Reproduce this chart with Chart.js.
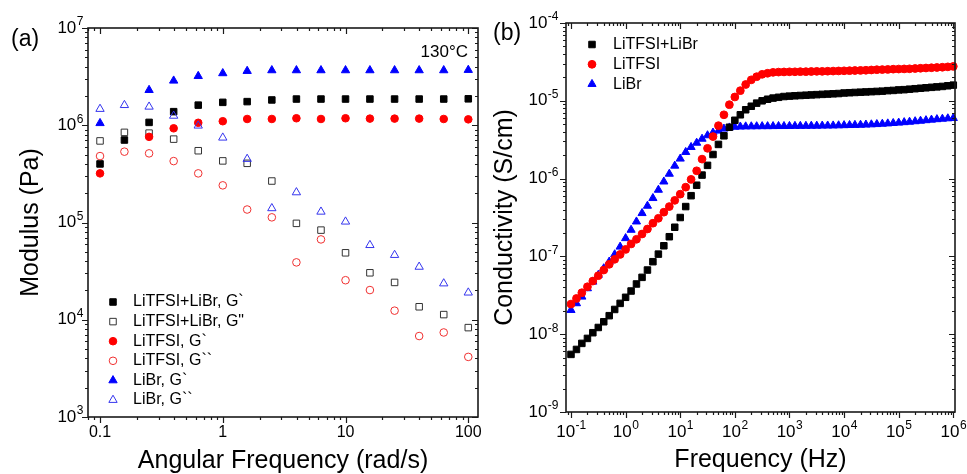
<!DOCTYPE html>
<html>
<head>
<meta charset="utf-8">
<script src="https://cdn.jsdelivr.net/npm/chart.js@4.4.1/dist/chart.umd.min.js"></script>
<style>
  html, body { margin: 0; padding: 0; background: #fff; }
  #wrap { position: relative; width: 967px; height: 474px; overflow: hidden; }
  canvas { position: absolute; top: 0; }
  #chartA { left: 0; }
  #chartB { left: 490px; }
</style>
</head>
<body>
<div id="wrap">
  <canvas id="chartA" width="490" height="474"></canvas>
  <canvas id="chartB" width="477" height="474"></canvas>
</div>
<script>
const FONT = 'Arial, "Liberation Sans", Helvetica, sans-serif';
Chart.defaults.font.family = FONT;
Chart.defaults.color = '#000';

// ---- (a) modulus vs angular frequency, 130 C ----
const omega = [0.1, 0.158, 0.251, 0.398, 0.631, 1, 1.58, 2.51, 3.98, 6.31, 10, 15.8, 25.1, 39.8, 63.1, 100];
const gpMix   = [4.0e5, 7.05e5, 1.07e6, 1.38e6, 1.61e6, 1.72e6, 1.75e6, 1.82e6, 1.86e6, 1.86e6, 1.86e6, 1.86e6, 1.86e6, 1.86e6, 1.86e6, 1.87e6];
const gppMix  = [6.9e5, 8.45e5, 8.3e5, 7.2e5, 5.47e5, 4.3e5, 4.06e5, 2.67e5, 9.8e4, 8.35e4, 4.88e4, 3.04e4, 2.42e4, 1.36e4, 1.13e4, 8.3e3];
const gpTfsi  = [3.2e5, null, 7.6e5, 9.3e5, 1.06e6, 1.1e6, 1.16e6, 1.16e6, 1.18e6, 1.16e6, 1.18e6, 1.17e6, 1.17e6, 1.17e6, 1.16e6, 1.15e6];
const gppTfsi = [4.82e5, 5.35e5, 5.14e5, 4.28e5, 3.2e5, 2.41e5, 1.36e5, 1.13e5, 3.89e4, 6.7e4, 2.55e4, 2.02e4, 1.24e4, 6.8e3, 7.4e3, 4.15e3];
const gpLibr  = [1.05e6, null, 2.3e6, 2.87e6, 3.2e6, 3.42e6, 3.61e6, 3.67e6, 3.67e6, 3.67e6, 3.67e6, 3.67e6, 3.67e6, 3.67e6, 3.67e6, 3.7e6];
const gppLibr = [1.47e6, 1.61e6, 1.55e6, 1.25e6, 9.9e5, 7.45e5, 4.5e5, 1.4e5, 2.04e5, 1.29e5, 1.02e5, 5.85e4, 4.63e4, 3.5e4, 2.36e4, 1.9e4];
const labelsA = ['LiTFSI+LiBr, G`', 'LiTFSI+LiBr, G"', 'LiTFSI, G`', 'LiTFSI, G``', 'LiBr, G`', 'LiBr, G``'];

// ---- (b) conductivity vs frequency ----
const freq = [
  0.1, 0.126, 0.158, 0.2, 0.251, 0.316, 0.398, 0.501, 0.631, 0.794,
  1, 1.26, 1.58, 2, 2.51, 3.16, 3.98, 5.01, 6.31, 7.94,
  10, 12.6, 15.8, 20, 25.1, 31.6, 39.8, 50.1, 63.1, 79.4,
  100, 126, 158, 200, 251, 316, 398, 501, 631, 794,
  1000, 1260, 1580, 2000, 2510, 3160, 3980, 5010, 6310, 7940,
  1e4, 1.26e4, 1.58e4, 2e4, 2.51e4, 3.16e4, 3.98e4, 5.01e4, 6.31e4, 7.94e4,
  1e5, 1.26e5, 1.58e5, 2e5, 2.51e5, 3.16e5, 3.98e5, 5.01e5, 6.31e5, 7.94e5,
  1e6
];
const sigMix = [
  5.5e-9, 6.37e-9, 7.62e-9, 8.83e-9, 1.045e-8, 1.22e-8, 1.445e-8, 1.73e-8, 2.08e-8, 2.49e-8,
  2.98e-8, 3.59e-8, 4.42e-8, 5.38e-8, 6.68e-8, 8.55e-8, 1.07e-7, 1.37e-7, 1.79e-7, 2.37e-7,
  3.16e-7, 4.37e-7, 6.03e-7, 8.22e-7, 1.11e-6, 1.48e-6, 2.04e-6, 2.75e-6, 3.55e-6, 4.57e-6,
  5.62e-6, 6.61e-6, 7.67e-6, 8.51e-6, 9.33e-6, 1.0e-5, 1.047e-5, 1.084e-5, 1.109e-5, 1.135e-5,
  1.148e-5, 1.16e-5, 1.17e-5, 1.18e-5, 1.19e-5, 1.2e-5, 1.21e-5, 1.22e-5, 1.23e-5, 1.24e-5,
  1.26e-5, 1.27e-5, 1.28e-5, 1.29e-5, 1.3e-5, 1.31e-5, 1.32e-5, 1.33e-5, 1.35e-5, 1.36e-5,
  1.38e-5, 1.39e-5, 1.41e-5, 1.43e-5, 1.45e-5, 1.47e-5, 1.49e-5, 1.51e-5, 1.53e-5, 1.56e-5,
  1.59e-5
];
const sigTfsi = [
  2.44e-8, 2.88e-8, 3.41e-8, 4.07e-8, 4.82e-8, 5.65e-8, 6.68e-8, 7.91e-8, 9.18e-8, 1.06e-7,
  1.23e-7, 1.445e-7, 1.66e-7, 1.94e-7, 2.25e-7, 2.67e-7, 3.09e-7, 3.7e-7, 4.37e-7, 5.25e-7,
  6.31e-7, 7.76e-7, 9.77e-7, 1.26e-6, 1.78e-6, 2.45e-6, 3.47e-6, 4.79e-6, 6.61e-6, 8.91e-6,
  1.12e-5, 1.35e-5, 1.62e-5, 1.86e-5, 2.04e-5, 2.19e-5, 2.26e-5, 2.32e-5, 2.34e-5, 2.35e-5,
  2.36e-5, 2.36e-5, 2.37e-5, 2.37e-5, 2.38e-5, 2.39e-5, 2.39e-5, 2.4e-5, 2.41e-5, 2.42e-5,
  2.43e-5, 2.44e-5, 2.45e-5, 2.46e-5, 2.47e-5, 2.49e-5, 2.51e-5, 2.52e-5, 2.53e-5, 2.55e-5,
  2.56e-5, 2.57e-5, 2.58e-5, 2.6e-5, 2.62e-5, 2.64e-5, 2.66e-5, 2.68e-5, 2.7e-5, 2.73e-5,
  2.77e-5
];
const sigLibr = [
  2.04e-8, 2.49e-8, 3.03e-8, 3.88e-8, 4.72e-8, 5.77e-8, 7.01e-8, 8.55e-8, 1.06e-7, 1.33e-7,
  1.71e-7, 2.19e-7, 2.8e-7, 3.59e-7, 4.46e-7, 5.6e-7, 7.16e-7, 9.14e-7, 1.15e-6, 1.46e-6,
  1.8e-6, 2.19e-6, 2.54e-6, 2.88e-6, 3.24e-6, 3.59e-6, 3.89e-6, 4.12e-6, 4.37e-6, 4.52e-6,
  4.62e-6, 4.65e-6, 4.67e-6, 4.68e-6, 4.69e-6, 4.7e-6, 4.7e-6, 4.71e-6, 4.72e-6, 4.72e-6,
  4.73e-6, 4.74e-6, 4.74e-6, 4.75e-6, 4.76e-6, 4.77e-6, 4.78e-6, 4.79e-6, 4.8e-6, 4.82e-6,
  4.84e-6, 4.86e-6, 4.88e-6, 4.9e-6, 4.93e-6, 4.96e-6, 5.0e-6, 5.05e-6, 5.1e-6, 5.16e-6,
  5.22e-6, 5.29e-6, 5.36e-6, 5.44e-6, 5.52e-6, 5.61e-6, 5.7e-6, 5.78e-6, 5.86e-6, 5.93e-6,
  5.98e-6
];
const labelsB = ['LiTFSI+LiBr', 'LiTFSI', 'LiBr'];

function plainLabel(v) {
  return v >= 1 ? String(Math.round(v)) : String(v);
}

// 1..9 x 10^n ticks, decades flagged as major
function logTicks(scale) {
  const ticks = [];
  const lo = Math.floor(Math.log10(scale.min));
  const hi = Math.ceil(Math.log10(scale.max));
  for (let e = lo; e <= hi; e++) {
    for (let m = 1; m <= 9; m++) {
      const v = parseFloat((m * Math.pow(10, e)).toPrecision(6));
      if (v >= scale.min * 0.9999 && v <= scale.max * 1.0001) ticks.push({value: v, major: m === 1});
    }
  }
  scale.ticks = ticks;
}

function pts(xs, ys) {
  return xs.map((x, i) => ({x: x, y: ys[i]}));
}

function drawMarker(ctx, style, x, y, r, fill, stroke, lw) {
  ctx.beginPath();
  if (style === 'rect') {
    const s = r * Math.SQRT1_2;
    ctx.rect(x - s, y - s, 2 * s, 2 * s);
  } else if (style === 'triangle') {
    let a = 0;
    ctx.moveTo(x + Math.sin(a) * r, y - Math.cos(a) * r);
    a += 2 * Math.PI / 3;
    ctx.lineTo(x + Math.sin(a) * r, y - Math.cos(a) * r);
    a += 2 * Math.PI / 3;
    ctx.lineTo(x + Math.sin(a) * r, y - Math.cos(a) * r);
    ctx.closePath();
  } else {
    ctx.arc(x, y, r, 0, 2 * Math.PI);
  }
  ctx.fillStyle = fill;
  ctx.fill();
  ctx.lineWidth = lw;
  ctx.strokeStyle = stroke;
  ctx.stroke();
}

// box frame; ticks out on bottom/left, in on top/right
const frameTicks = {
  id: 'frameTicks',
  afterDraw(chart) {
    const {ctx, chartArea: a} = chart;
    const x = chart.scales.x, y = chart.scales.y;
    ctx.save();
    ctx.strokeStyle = '#1a1a1a';
    ctx.lineWidth = 1.2;
    ctx.beginPath();
    x.ticks.forEach(t => {
      const px = Math.round(x.getPixelForValue(t.value)) + 0.5;
      const len = t.major ? 6 : 3;
      ctx.moveTo(px, a.bottom); ctx.lineTo(px, a.bottom + len);
      ctx.moveTo(px, a.top); ctx.lineTo(px, a.top + len);
    });
    y.ticks.forEach(t => {
      const py = Math.round(y.getPixelForValue(t.value)) + 0.5;
      const len = t.major ? 6 : 3;
      ctx.moveTo(a.left, py); ctx.lineTo(a.left - len, py);
      ctx.moveTo(a.right, py); ctx.lineTo(a.right - len, py);
    });
    ctx.stroke();
    ctx.lineWidth = 1.6;
    ctx.strokeRect(a.left, a.top, a.right - a.left, a.bottom - a.top);
    ctx.restore();
  }
};

// "10" with a raised exponent at each decade of the chosen axes
function powLabels(cfg) {
  return {
    id: 'powLabels',
    afterDraw(chart) {
      const ctx = chart.ctx;
      const a = chart.chartArea;
      ctx.save();
      ctx.fillStyle = '#000';
      ctx.textBaseline = 'middle';
      ctx.textAlign = 'left';
      const bigF = '17px ' + FONT, smallF = '12px ' + FONT;
      const put = (px, py, e, anchor) => {
        const exp = String(e);
        ctx.font = bigF;
        const w1 = ctx.measureText('10').width;
        ctx.font = smallF;
        const w2 = ctx.measureText(exp).width;
        const x0 = anchor === 'right' ? px - w1 - w2 : px - (w1 + w2) / 2;
        ctx.font = bigF;
        ctx.fillText('10', x0, py);
        ctx.font = smallF;
        ctx.fillText(exp, x0 + w1 + 0.5, py - 6);
      };
      if (cfg.x) {
        const s = chart.scales.x;
        s.ticks.forEach(t => {
          if (!t.major) return;
          put(s.getPixelForValue(t.value), a.bottom + cfg.xDown, Math.round(Math.log10(t.value)), 'center');
        });
      }
      if (cfg.y) {
        const s = chart.scales.y;
        s.ticks.forEach(t => {
          if (!t.major) return;
          put(a.left - cfg.yGap, s.getPixelForValue(t.value), Math.round(Math.log10(t.value)), 'right');
        });
      }
      ctx.restore();
    }
  };
}

function legendPlugin(markX, textX, y0, dy) {
  return {
    id: 'boxLegend',
    afterDraw(chart) {
      const ctx = chart.ctx;
      ctx.save();
      chart.data.datasets.forEach((ds, i) => {
        const yy = y0 + i * dy;
        drawMarker(ctx, ds.pointStyle, markX, yy, ds.pointRadius, ds.backgroundColor, ds.borderColor, ds.borderWidth);
        ctx.fillStyle = '#000';
        ctx.font = '16px ' + FONT;
        ctx.textAlign = 'left';
        ctx.textBaseline = 'middle';
        ctx.fillText(ds.label, textX, yy);
      });
      ctx.restore();
    }
  };
}

function notes(items) {
  return {
    id: 'notes',
    afterDraw(chart) {
      const ctx = chart.ctx;
      ctx.save();
      ctx.fillStyle = '#000';
      ctx.textBaseline = 'middle';
      items.forEach(it => {
        ctx.font = it.size + 'px ' + FONT;
        ctx.textAlign = it.align;
        ctx.fillText(it.text, it.x, it.y);
      });
      ctx.restore();
    }
  };
}

function series(label, xs, ys, style, r, fill, stroke, order) {
  return {
    label: label,
    data: pts(xs, ys),
    pointStyle: style,
    pointRadius: r,
    pointHoverRadius: r,
    backgroundColor: fill,
    borderColor: stroke,
    borderWidth: 1,
    showLine: false,
    clip: false,
    order: order
  };
}

function logAxis(opts) {
  return {
    type: 'logarithmic',
    min: opts.min,
    max: opts.max,
    afterBuildTicks: logTicks,
    afterFit: opts.fit,
    grid: {display: false, drawTicks: false},
    border: {display: false},
    ticks: {
      autoSkip: false,
      maxRotation: 0,
      padding: opts.pad,
      color: '#000',
      font: {size: 16},
      callback: (v, i, t) => (opts.fmt && t[i] && t[i].major) ? opts.fmt(v) : ''
    },
    title: {
      display: true,
      text: opts.title,
      color: '#000',
      font: {size: 25, lineHeight: 1},
      padding: opts.titlePad
    }
  };
}

const NONE = 'rgba(0,0,0,0)';

new Chart(document.getElementById('chartA'), {
  type: 'scatter',
  data: {
    datasets: [
      series(labelsA[0], omega, gpMix, 'rect', 4.6, '#000', '#000', 6),
      series(labelsA[1], omega, gppMix, 'rect', 4.6, NONE, '#333', 5),
      series(labelsA[2], omega, gpTfsi, 'circle', 3.8, '#ff0000', '#ff0000', 4),
      series(labelsA[3], omega, gppTfsi, 'circle', 3.8, NONE, '#f03030', 3),
      series(labelsA[4], omega, gpLibr, 'triangle', 4.8, '#0000ff', '#0000ff', 2),
      series(labelsA[5], omega, gppLibr, 'triangle', 4.8, NONE, '#3535ee', 1)
    ]
  },
  options: {
    responsive: false,
    animation: false,
    devicePixelRatio: 1,
    layout: {padding: {left: 0, top: 28, right: 12, bottom: 0}},
    plugins: {legend: {display: false}, tooltip: {enabled: false}},
    scales: {
      x: logAxis({min: 0.0798, max: 120, fmt: plainLabel, pad: 6,
                  fit: s => { s.height = 57; },
                  title: 'Angular Frequency (rad/s)', titlePad: {top: 0, bottom: 0}}),
      y: logAxis({min: 1e3, max: 1e7, fmt: null, pad: 6,
                  fit: s => { s.width = 88; },
                  title: 'Modulus (Pa)', titlePad: {top: 18.5, bottom: 0}})
    }
  },
  plugins: [frameTicks, powLabels({y: true, yGap: 5}), legendPlugin(113, 133, 302, 19.6),
            notes([{text: '(a)', x: 11, y: 40, size: 23, align: 'left'},
                   {text: '130\u00B0C', x: 468, y: 52, size: 17, align: 'right'}])]
});

new Chart(document.getElementById('chartB'), {
  type: 'scatter',
  data: {
    datasets: [
      series(labelsB[0], freq, sigMix, 'rect', 4.6, '#000', '#000', 2),
      series(labelsB[1], freq, sigTfsi, 'circle', 3.9, '#ff0000', '#ff0000', 1),
      series(labelsB[2], freq, sigLibr, 'triangle', 4.7, '#0000ff', '#0000ff', 3)
    ]
  },
  options: {
    responsive: false,
    animation: false,
    devicePixelRatio: 1,
    layout: {padding: {left: 0, top: 23, right: 12, bottom: 0}},
    plugins: {legend: {display: false}, tooltip: {enabled: false}},
    scales: {
      x: logAxis({min: 0.081, max: 1.074e6, fmt: null, pad: 6,
                  fit: s => { s.height = 62; },
                  title: 'Frequency (Hz)', titlePad: {top: 0, bottom: 1.5}}),
      y: logAxis({min: 1e-9, max: 1e-4, fmt: null, pad: 5,
                  fit: s => { s.width = 76; },
                  title: 'Conductivity (S/cm)', titlePad: {top: 2.5, bottom: 0}})
    }
  },
  plugins: [frameTicks, powLabels({x: true, xDown: 20, y: true, yGap: 8}), legendPlugin(102, 123, 44.5, 19.8),
            notes([{text: '(b)', x: 3, y: 34, size: 23, align: 'left'}])]
});
</script>
</body>
</html>
